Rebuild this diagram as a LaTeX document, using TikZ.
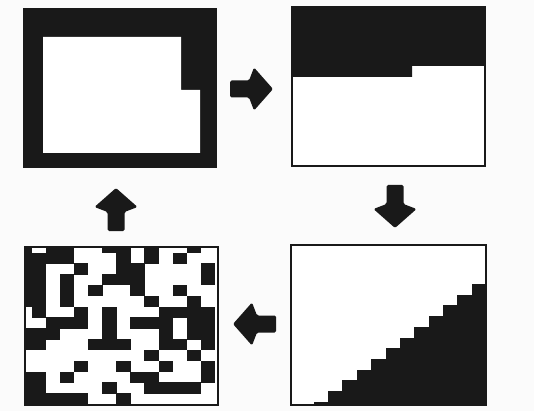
\documentclass[tikz,border=0pt]{standalone}
\usetikzlibrary{calc}
\definecolor{ink}{rgb}{0.1,0.1,0.1}
\definecolor{paper}{rgb}{0.985,0.985,0.985}
\tikzset{
  inkfill/.style={fill=ink, draw=none},
  thinframe/.style={draw=ink, line width=1.8pt},
  pics/blockarrow/.style={code={
    \fill[ink, rounded corners=1.5pt] (0,-8.5) -- (19,-8.5) -- (24,-21.5) -- (43,0)
      -- (24,21.5) -- (19,8.5) -- (0,8.5) -- cycle;
  }}
}
\begin{document}
\begin{tikzpicture}[x=1pt,y=-1pt]
\fill[paper] (0,0) rectangle (534,411);
\useasboundingbox (0,0) rectangle (534,411);

% top-left panel: thick frame
\coordinate (tl) at (23,8);
\fill[inkfill] (23,8) rectangle (217,168);
\fill[white] (43,37) -- (181,37) -- (181,90) -- (200,90) -- (200,153) -- (43,153) -- cycle;

% top-right panel: upper half black
\coordinate (tr) at (292,7);
\fill[white] (292,7) rectangle (485,166);
\fill[inkfill] (292,7) -- (485,7) -- (485,66) -- (412,66) -- (412,77) -- (292,77) -- cycle;
\draw[thinframe] (292,7) rectangle (485,166);

% bottom-right panel: staircase
\coordinate (br) at (291,245);
\fill[white] (291,245) rectangle (486,405);
\foreach \k in {0,...,11}{
  \fill[inkfill] ({313.7+14.36*\k},405) rectangle ({313.7+14.36*(\k+1)+0.4},{401.7-10.7*\k});
}
\draw[thinframe] (291,245) rectangle (486,405);

% bottom-left panel: random pattern
\coordinate (bl) at (25,246.7);
\fill[white] (25,246.7) rectangle (218.3,405);
\begin{scope}
\clip (25,246.7) rectangle (218.3,405);
\foreach \bits [count=\r from 0] in {
  {1,0,1,1,0,0,1,1,0,1,0,0,1,0,0},
  {1,1,1,1,0,0,0,1,0,1,0,1,0,0,0},
  {1,1,0,0,1,0,0,1,1,0,0,0,0,1,0},
  {1,1,0,1,0,0,1,1,1,0,0,0,0,1,0},
  {1,1,0,1,0,1,0,0,1,0,0,1,0,0,0},
  {1,1,0,1,0,0,0,0,0,1,0,0,1,0,0},
  {0,1,0,0,1,0,1,0,0,0,1,1,1,1,0},
  {0,0,1,1,1,0,1,0,1,1,1,0,1,1,0},
  {1,1,1,0,0,0,1,0,0,0,1,0,1,1,0},
  {1,1,0,0,0,1,1,1,0,0,1,1,0,1,0},
  {0,0,0,0,0,0,0,0,0,1,0,0,1,0,0},
  {0,0,0,0,1,0,0,1,0,0,1,0,0,1,0},
  {1,1,0,1,0,0,0,0,1,1,0,0,0,1,0},
  {1,1,0,0,0,0,1,0,0,1,1,1,1,0,0},
  {1,1,1,1,1,0,0,1,0,0,0,0,0,0,0},
  {0,0,0,0,0,0,0,0,0,0,0,0,1,0,0}}{
  \foreach \b [count=\c from 0] in \bits {
    \ifnum\b=1
      \fill[inkfill] ({17.57+14.1*\c},{241.67+10.83*\r}) rectangle ({17.57+14.1*(\c+1)+0.4},{241.67+10.83*(\r+1)+0.4});
    \fi
  }
}
\end{scope}
\draw[thinframe] (25,246.7) rectangle (218.3,405);

% block arrows between panels
\pic at (230,89) {blockarrow};
\pic[rotate=-90] at (395,185) {blockarrow};
\pic[rotate=180] at (276,324) {blockarrow};
\pic[rotate=90] at (116,231) {blockarrow};
\end{tikzpicture}
\end{document}
